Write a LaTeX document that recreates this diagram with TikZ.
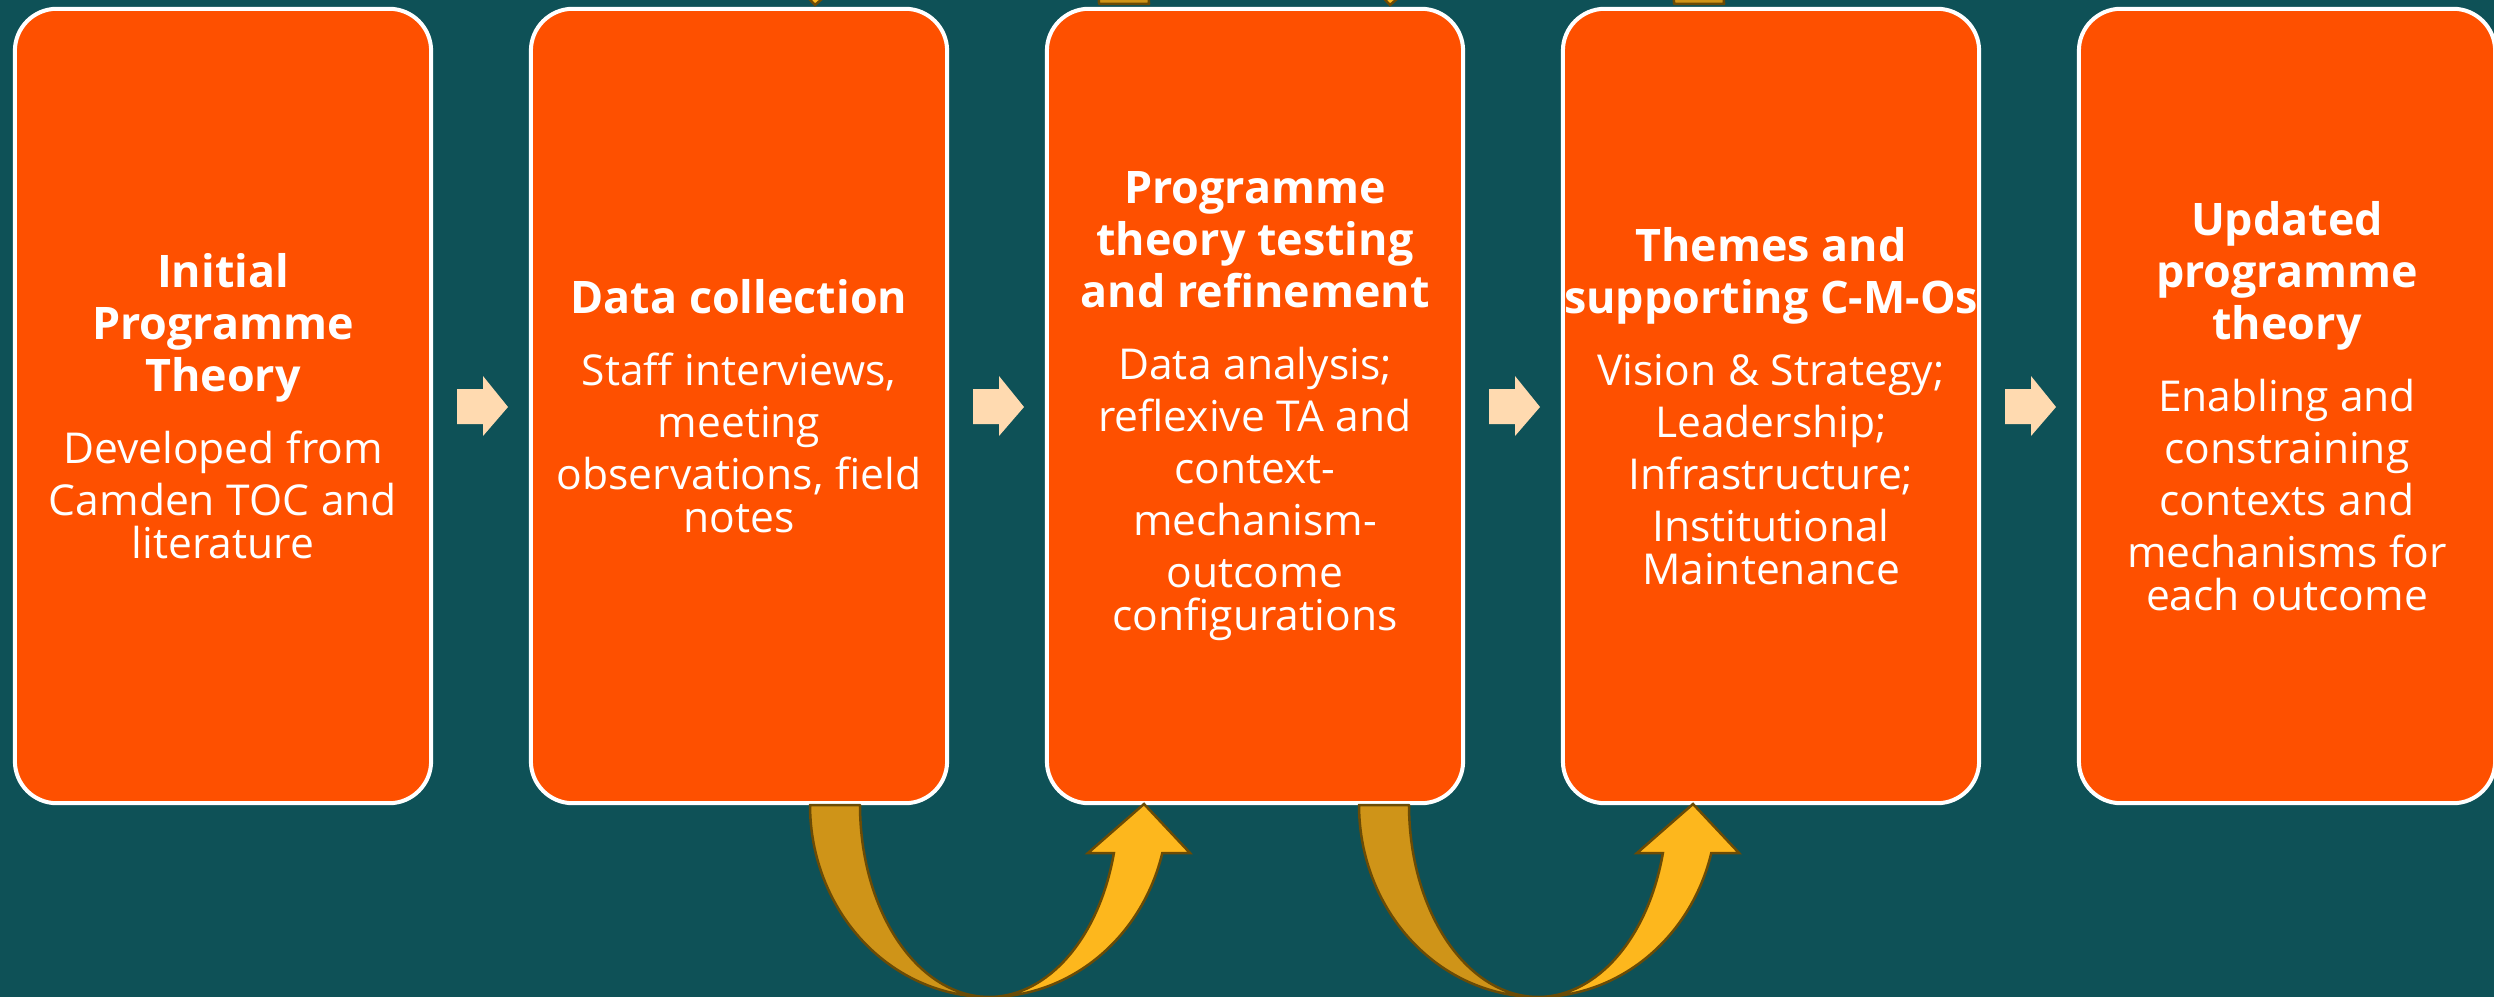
\documentclass[tikz,border=0pt]{standalone}
\usepackage{fontspec}
\setmainfont{Open Sans}
\usetikzlibrary{calc}

\definecolor{bgteal}{HTML}{0E5157}
\definecolor{boxorange}{HTML}{FE5000}
\definecolor{peach}{HTML}{FFDAB0}
\definecolor{golddark}{HTML}{CF9418}
\definecolor{goldlight}{HTML}{FDB71D}
\definecolor{goldline}{HTML}{6B4B05}

\newcommand{\titlefont}{\fontsize{12.75}{14.8}\selectfont\bfseries}
\newcommand{\bodyfont}{\fontsize{12.1}{14.8}\selectfont\mdseries}

% U-shaped wrap-around arrow; local origin = centre of the ellipses,
% tail on the left, head on the right
\newcommand{\wraparrow}{%
  \fill[golddark, draw=goldline, line width=0.025cm, line join=round]
    plot[domain=180:90, samples=50] ({179*cos(\x)},{192*sin(\x)})
    -- plot[domain=90:180, samples=50] ({129*cos(\x)},{192*sin(\x)}) -- cycle;
  \fill[goldlight, draw=goldline, line width=0.025cm, line join=miter]
    plot[domain=90:14.48, samples=50] ({179*cos(\x)},{192*sin(\x)})
    -- (201,48) -- (155,-1) -- (99,48)
    -- plot[domain=14.48:90, samples=50] ({129*cos(\x)},{192*sin(\x)}) -- cycle;
}

\tikzset{
  stagebox/.style={draw=white, line width=0.04cm, fill=boxorange,
    rounded corners=0.42cm, minimum width=4.16cm, minimum height=7.94cm,
    text=white, align=center, text width=4.16cm, inner sep=0pt},
  blockarrow/.style={fill=peach},
}

\begin{document}
\begin{tikzpicture}[x=0.01cm, y=-0.01cm]
  \useasboundingbox (0,0) rectangle (2494,997);
  \fill[bgteal] (0,0) rectangle (2494,997);
  \clip (0,0) rectangle (2494,997);

  % stage boxes
  \node[stagebox] (b1) at (223,406) {\titlefont Initial\\ Programme\\ Theory\\[5.7pt]
    \bodyfont Developed from\\ Camden TOC and\\ literature};
  \node[stagebox] (b2) at (739,406) {\titlefont Data collection\\[5.7pt]
    \bodyfont Staff interviews,\\ meeting\\ observations, field\\ notes};
  \node[stagebox] (b3) at (1255,406) {\titlefont Programme\\ theory testing\\ and refinement\\[5.7pt]
    \bodyfont Data analysis;\\ reflexive TA and\\ context-\\ mechanism-\\ outcome\\ configurations};
  \node[stagebox] (b4) at (1771,406) {\titlefont Themes and\\ supporting C-M-Os\\[5.7pt]
    \bodyfont Vision \& Strategy;\\ Leadership;\\ Infrastructure;\\ Institutional\\ Maintenance};
  \node[stagebox] (b5) at (2287,406) {\titlefont Updated\\ programme\\ theory\\[5.7pt]
    \bodyfont Enabling and\\ constraining\\ contexts and\\ mechanisms for\\ each outcome};

  % block arrows between consecutive boxes
  \foreach \a/\b in {b1/b2, b2/b3, b3/b4, b4/b5}{
    \coordinate (m) at ($(\a.east)!0.5!(\b.west)$);
    \begin{scope}[shift={(m)}]
      \fill[blockarrow] (-24,-17) -- (2,-17) -- (2,-30) -- (27,1) -- (2,30)
        -- (2,18) -- (-24,18) -- cycle;
    \end{scope}
  }

  % wrap-around arrows below the boxes
  \begin{scope}[shift={(989,805)}] \wraparrow \end{scope}
  \begin{scope}[shift={(1538,805)}] \wraparrow \end{scope}
  % and the matching ones above, turned half a turn
  \begin{scope}[shift={(970,4)}, rotate=180] \wraparrow \end{scope}
  \begin{scope}[shift={(1545,4)}, rotate=180] \wraparrow \end{scope}
\end{tikzpicture}
\end{document}
